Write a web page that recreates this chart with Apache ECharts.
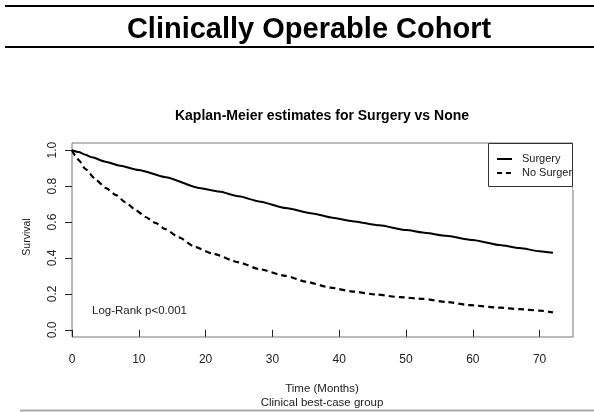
<!DOCTYPE html>
<html><head><meta charset="utf-8">
<script src="https://cdn.jsdelivr.net/npm/echarts@6/dist/echarts.min.js"></script>
<style>html,body{margin:0;padding:0;background:#fff}#c{width:594px;height:412px}</style>
</head><body><div id="c"></div>
<script>
var surgeryMonths = [0, 1, 2, 3, 5, 7, 10, 14, 19, 22, 25, 28, 32, 36, 39, 42, 46, 50, 53, 56, 60, 64, 67, 70, 72];
var surgeryValues = [1.0, 0.99, 0.975, 0.96, 0.936, 0.915, 0.89, 0.85, 0.79, 0.77, 0.743, 0.715, 0.678, 0.648, 0.624, 0.605, 0.582, 0.555, 0.539, 0.523, 0.50, 0.472, 0.455, 0.438, 0.429];
var noSurgeryMonths = [0, 0.5, 1, 2, 3.6, 5, 6.6, 8, 9.6, 11, 12.5, 14, 16, 18.5, 21, 25, 28, 32, 35, 38.7, 42, 45.6, 49, 52.6, 56, 59.6, 64, 67, 70, 72];
var noSurgeryValues = [1.0, 0.97, 0.945, 0.895, 0.835, 0.79, 0.75, 0.71, 0.665, 0.628, 0.595, 0.56, 0.515, 0.46, 0.425, 0.375, 0.338, 0.30, 0.268, 0.235, 0.213, 0.196, 0.182, 0.172, 0.155, 0.137, 0.123, 0.115, 0.107, 0.097];
var xTicks = [0, 10, 20, 30, 40, 50, 60, 70];
var yTicks = [0, 0.2, 0.4, 0.6, 0.8, 1.0];
var seriesNames = ['Surgery', 'No Surgery'];

function pairs(xs, ys) { return xs.map(function (x, i) { return [x, ys[i]]; }); }

var F = 'Liberation Sans, Arial, sans-serif';
var chart = echarts.init(document.getElementById('c'), null, {renderer: 'canvas'});
chart.setOption({
  animation: false,
  backgroundColor: '#fff',
  grid: {left: 72, top: 143, right: 21, bottom: 75, show: true, borderColor: '#777', borderWidth: 1, backgroundColor: 'transparent'},
  xAxis: {
    type: 'value', min: 0, max: 75,
    axisLine: {show: false},
    splitLine: {show: false},
    axisTick: {show: true, length: 7, lineStyle: {color: '#222'}, customValues: xTicks},
    axisLabel: {customValues: xTicks, color: '#222', fontFamily: F, fontSize: 12, margin: 17}
  },
  yAxis: {
    type: 'value', min: -0.04, max: 1.04,
    axisLine: {show: false},
    splitLine: {show: false},
    axisTick: {show: true, length: 7, lineStyle: {color: '#222'}, customValues: yTicks},
    axisLabel: {customValues: yTicks, rotate: 90, color: '#222', fontFamily: F, fontSize: 12, margin: 13,
      formatter: function (v) { return v.toFixed(1); }}
  },
  series: [
    {name: seriesNames[0], type: 'line', data: pairs(surgeryMonths, surgeryValues), showSymbol: false, smooth: 0.2, smoothMonotone: 'x',
      lineStyle: {color: '#000', width: 2}},
    {name: seriesNames[1], type: 'line', data: pairs(noSurgeryMonths, noSurgeryValues), showSymbol: false, smooth: 0.2, smoothMonotone: 'x',
      lineStyle: {color: '#000', width: 2.2, type: [6, 4]}}
  ],
  graphic: [
    {type: 'line', shape: {x1: 5, y1: 6, x2: 594, y2: 6}, style: {stroke: '#000', lineWidth: 2}},
    {type: 'line', shape: {x1: 5, y1: 47, x2: 594, y2: 47}, style: {stroke: '#000', lineWidth: 2}},
    {type: 'line', shape: {x1: 20, y1: 410.5, x2: 594, y2: 410.5}, style: {stroke: '#aaa', lineWidth: 2}},
    {type: 'text', x: 309, y: 30, style: {text: 'Clinically Operable Cohort', font: 'bold 29px ' + F, fill: '#000', align: 'center', verticalAlign: 'middle'}},
    {type: 'text', x: 322, y: 116, style: {text: 'Kaplan-Meier estimates for Surgery vs None', font: 'bold 14px ' + F, fill: '#000', align: 'center', verticalAlign: 'middle'}},
    {type: 'text', x: 322, y: 389, style: {text: 'Time (Months)', font: '11.5px ' + F, fill: '#222', align: 'center', verticalAlign: 'middle'}},
    {type: 'text', x: 322, y: 403, style: {text: 'Clinical best-case group', font: '11.5px ' + F, fill: '#222', align: 'center', verticalAlign: 'middle'}},
    {type: 'text', x: 27, y: 237, rotation: Math.PI / 2, style: {text: 'Survival', font: '10.5px ' + F, fill: '#222', align: 'center', verticalAlign: 'middle'}},
    {type: 'text', x: 92, y: 311, style: {text: 'Log-Rank p<0.001', font: '11.5px ' + F, fill: '#222', align: 'left', verticalAlign: 'middle'}},
    {type: 'text', x: 522, y: 159, style: {text: seriesNames[0], font: '11px ' + F, fill: '#222', align: 'left', verticalAlign: 'middle'}},
    {type: 'text', x: 522, y: 173, style: {text: seriesNames[1], font: '11px ' + F, fill: '#222', align: 'left', verticalAlign: 'middle'}},
    {type: 'rect', shape: {x: 573, y: 140, width: 21, height: 50}, style: {fill: '#fff'}, z: 100},
    {type: 'rect', shape: {x: 488.5, y: 143.5, width: 84, height: 43}, style: {fill: 'none', stroke: '#333', lineWidth: 1}},
    {type: 'line', shape: {x1: 497, y1: 159, x2: 512, y2: 159}, style: {stroke: '#000', lineWidth: 2}},
    {type: 'line', shape: {x1: 497, y1: 173, x2: 512, y2: 173}, style: {stroke: '#000', lineWidth: 2, lineDash: [5, 4]}}
  ]
});
</script></body></html>
